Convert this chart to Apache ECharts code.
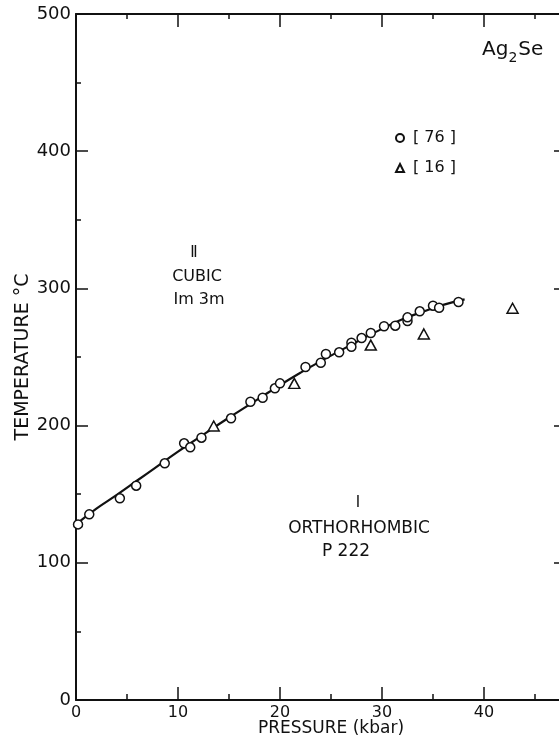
<!DOCTYPE html>
<html>
<head>
<meta charset="utf-8">
<script src="https://cdn.jsdelivr.net/npm/echarts@6/dist/echarts.min.js"></script>
<style>
  html, body { margin: 0; padding: 0; background: #fff; }
  #chart { width: 559px; height: 739px; }
</style>
</head>
<body>
<div id="chart"></div>
<script>
// phase boundary (solid curve)
var lineP = [0, 2, 4, 6, 8, 10, 12, 14, 16, 18, 20, 22, 24, 26, 28, 30, 32, 34, 36, 38.1];
var lineT = [128, 139.5, 149.5, 160, 170.5, 181, 191, 201, 210.5, 220, 229.5, 238.5, 247, 255, 263, 270.5, 277.5, 283, 288, 292];

// open circles, ref [76]
var circP = [0.2, 1.3, 4.3, 5.9, 8.7, 10.6, 11.2, 12.3, 15.2, 17.1, 18.3, 19.5, 20.0, 22.5, 24.0, 24.5, 25.8, 27.0, 27.0, 28.0, 28.9, 30.2, 31.3, 32.5, 32.5, 33.7, 35.0, 35.6, 37.5];
var circT = [128, 135.3, 147, 156.2, 172.5, 187.1, 184.2, 191.2, 205.3, 217.4, 220.3, 227.2, 230.8, 242.7, 245.8, 252.2, 253.4, 260.4, 257.4, 263.8, 267.5, 272.4, 272.8, 276.2, 278.9, 283.3, 287.4, 285.9, 290.1];

// open triangles, ref [16]
var triP = [13.5, 21.4, 28.9, 34.1, 42.8];
var triT = [199.7, 230.8, 258.7, 266.8, 285.5];

var legendNames = ['[ 76 ]', '[ 16 ]'];

function pairs(xs, ys) {
  return xs.map(function (x, i) { return [x, ys[i]]; });
}

var ink = '#111';
var font = 'DejaVu Sans';

var chart = echarts.init(document.getElementById('chart'));

var option = {
  animation: false,
  backgroundColor: '#fff',
  textStyle: { fontFamily: font, color: ink },
  grid: { left: 76, top: 14, width: 510, height: 686, outerBoundsMode: 'none', containLabel: false },
  legend: {
    data: legendNames,
    orient: 'vertical',
    left: 390,
    top: 123,
    itemWidth: 8,
    itemHeight: 8,
    itemGap: 10,
    textStyle: { fontSize: 16, lineHeight: 20, color: ink, fontFamily: font, padding: [0, 0, 0, 4] }
  },
  xAxis: [
    {
      type: 'value', min: 0, max: 50, interval: 10, position: 'bottom',
      axisLine: { onZero: false, lineStyle: { color: ink, width: 2 } },
      axisTick: { inside: true, length: 13, lineStyle: { color: ink, width: 1.5 } },
      minorTick: { show: true, splitNumber: 2, length: 6, lineStyle: { color: ink, width: 1.5 } },
      splitLine: { show: false },
      axisLabel: { fontSize: 16, margin: 5, color: ink, fontFamily: font },
      name: 'PRESSURE (kbar)', nameLocation: 'middle', nameGap: 20, nameMoveOverlap: false,
      nameTextStyle: { fontSize: 17, color: ink, fontFamily: font }
    },
    {
      type: 'value', min: 0, max: 50, interval: 10, position: 'top',
      axisLine: { onZero: false, lineStyle: { color: ink, width: 2 } },
      axisTick: { inside: true, length: 13, lineStyle: { color: ink, width: 1.5 } },
      minorTick: { show: true, splitNumber: 2, length: 5, lineStyle: { color: ink, width: 1.5 } },
      splitLine: { show: false },
      axisLabel: { show: false }
    }
  ],
  yAxis: [
    {
      type: 'value', min: 0, max: 500, interval: 100, position: 'left',
      axisLine: { show: true, onZero: false, lineStyle: { color: ink, width: 2 } },
      axisTick: { show: true, inside: true, length: 12, lineStyle: { color: ink, width: 1.5 } },
      minorTick: { show: true, splitNumber: 2, length: 5, lineStyle: { color: ink, width: 1.5 } },
      splitLine: { show: false },
      axisLabel: { fontSize: 18, margin: 5, color: ink, fontFamily: font },
      name: 'TEMPERATURE °C', nameLocation: 'middle', nameGap: 43, nameRotate: 90, nameMoveOverlap: false,
      nameTextStyle: { fontSize: 19, color: ink, fontFamily: font }
    },
    {
      type: 'value', min: 0, max: 500, interval: 100, position: 'right', offset: -24,
      axisLine: { show: false, onZero: false },
      axisTick: { show: true, inside: true, length: 8, lineStyle: { color: ink, width: 1.5 } },
      splitLine: { show: false },
      axisLabel: { show: false }
    }
  ],
  series: [
    {
      type: 'line',
      data: pairs(lineP, lineT),
      smooth: true,
      symbol: 'none',
      lineStyle: { color: ink, width: 2.2 },
      z: 2
    },
    {
      name: legendNames[0],
      type: 'scatter',
      data: pairs(circP, circT),
      symbol: 'circle',
      symbolSize: 9,
      itemStyle: { color: '#fff', borderColor: ink, borderWidth: 1.5, opacity: 1 },
      z: 3
    },
    {
      name: legendNames[1],
      type: 'scatter',
      data: pairs(triP, triT),
      symbol: 'triangle',
      symbolSize: [11, 10],
      itemStyle: { color: '#fff', borderColor: ink, borderWidth: 1.5, opacity: 1 },
      z: 3
    }
  ],
  graphic: [
    { type: 'text', x: 194, y: 253, style: { text: 'Ⅱ', font: '15px "DejaVu Sans"', fill: ink, textAlign: 'center', textVerticalAlign: 'middle' } },
    { type: 'text', x: 197, y: 277, style: { text: 'CUBIC', font: '16px "DejaVu Sans"', fill: ink, textAlign: 'center', textVerticalAlign: 'middle' } },
    { type: 'text', x: 199, y: 300, style: { text: 'Im 3m', font: '16px "DejaVu Sans"', fill: ink, textAlign: 'center', textVerticalAlign: 'middle' } },
    { type: 'text', x: 358, y: 503, style: { text: 'Ⅰ', font: '15px "DejaVu Sans"', fill: ink, textAlign: 'center', textVerticalAlign: 'middle' } },
    { type: 'text', x: 359, y: 529, style: { text: 'ORTHORHOMBIC', font: '17px "DejaVu Sans"', fill: ink, textAlign: 'center', textVerticalAlign: 'middle' } },
    { type: 'text', x: 346, y: 552, style: { text: 'P 222', font: '17px "DejaVu Sans"', fill: ink, textAlign: 'center', textVerticalAlign: 'middle' } },
    {
      type: 'text', x: 482, y: 40,
      style: {
        text: '{a|Ag}{s|2}{a|Se}',
        fill: ink,
        rich: {
          a: { fontSize: 20, fontFamily: font, color: ink, verticalAlign: 'top', lineHeight: 24 },
          s: { fontSize: 14, fontFamily: font, color: ink, padding: [12, 1, 0, 0], lineHeight: 24 }
        }
      }
    }
  ]
};

chart.setOption(option);
</script>
</body>
</html>
